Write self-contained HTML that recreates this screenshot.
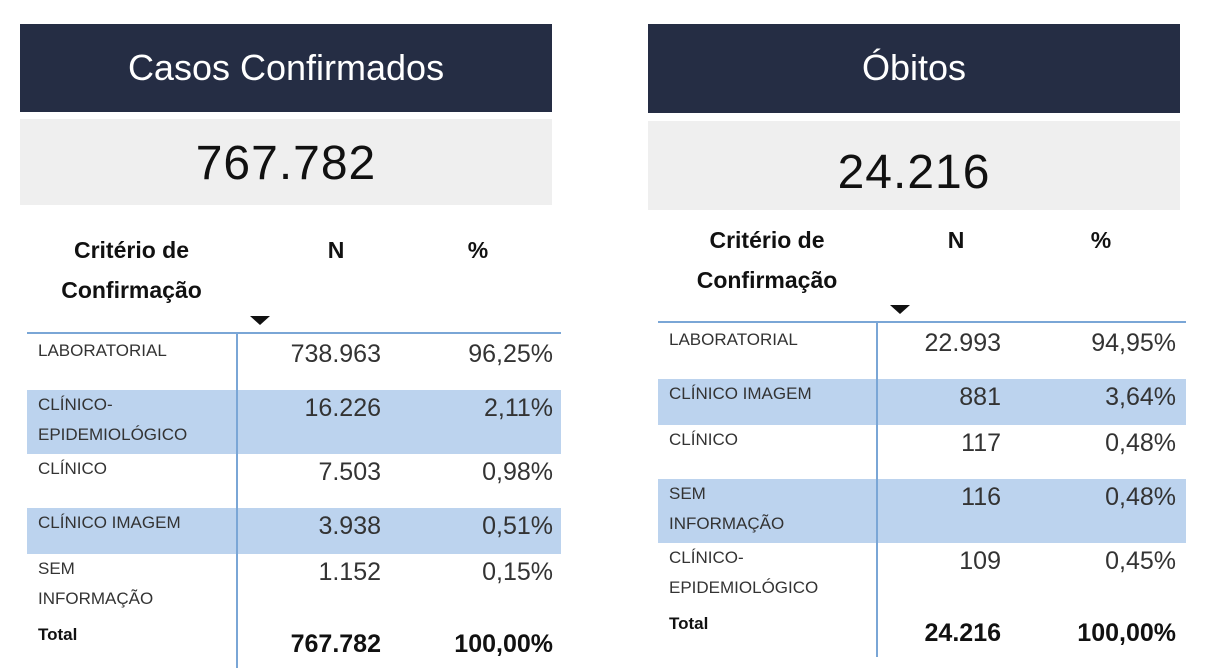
<!DOCTYPE html>
<html><head><meta charset="utf-8">
<style>
body{margin:0;width:1209px;height:663px;background:#fff;position:relative;overflow:hidden;font-family:"Liberation Sans","DejaVu Sans",sans-serif;color:#252525}
.abs{position:absolute}
.title{background:#252d44;color:#fff;font-size:36px;text-align:center;line-height:88px}
.kpi{background:#efefef;color:#111;font-size:48px;text-align:center;letter-spacing:1px}
.hd{font-weight:bold;font-size:23px;color:#111}
.lbl{font-size:17px;color:#333;line-height:30px}
.val{font-size:25px;color:#333;text-align:right}
.tot{font-weight:bold;color:#111}
.band{background:#bcd3ee}
</style></head><body>
<div class="abs title" style="left:20px;top:24px;width:532px;height:88px">Casos Confirmados</div>
<div class="abs kpi" style="left:20px;top:119px;width:532px;height:86px;line-height:90px">767.782</div>
<div class="abs title" style="left:648px;top:24px;width:532px;height:89px">Óbitos</div>
<div class="abs kpi" style="left:648px;top:121px;width:532px;height:89px;line-height:104px">24.216</div>
<div id="t1"></div>
<div id="t2"></div>
<script>
const casosLabels=[["LABORATORIAL"],["CLÍNICO-","EPIDEMIOLÓGICO"],["CLÍNICO"],["CLÍNICO IMAGEM"],["SEM","INFORMAÇÃO"]];
const casosN=["738.963","16.226","7.503","3.938","1.152"];
const casosPct=["96,25%","2,11%","0,98%","0,51%","0,15%"];
const casosTotal=["767.782","100,00%"];
const obitosLabels=[["LABORATORIAL"],["CLÍNICO IMAGEM"],["CLÍNICO"],["SEM","INFORMAÇÃO"],["CLÍNICO-","EPIDEMIOLÓGICO"]];
const obitosN=["22.993","881","117","116","109"];
const obitosPct=["94,95%","3,64%","0,48%","0,48%","0,45%"];
const obitosTotal=["24.216","100,00%"];
function mk(parent,cls,name,style,text){
  const e=document.createElement('div');
  e.className='abs '+cls;
  
  
  e.style.cssText=style;
  if(text!==undefined)e.innerHTML=text;
  parent.appendChild(e);return e;
}
function build(id,g,labels,ns,pcts,total){
  const p=document.getElementById(id);
  mk(p,'hd','header-criterio',`left:${g.x0}px;top:${g.hy}px;width:${g.divX-g.x0}px;text-align:center;line-height:40px`,'Critério de<br>Confirmação');
  mk(p,'hd','header-n',`left:${g.nR-80}px;top:${g.hy}px;width:70px;text-align:center;line-height:40px`,'N');
  mk(p,'hd','header-pct',`left:${g.pR-120}px;top:${g.hy}px;width:90px;text-align:center;line-height:40px`,'%');
  const tri=mk(p,'','sort-indicator',`left:${g.divX+14}px;top:${g.lineY-16}px;width:0;height:0;border-left:10px solid transparent;border-right:10px solid transparent;border-top:9px solid #111`);
  
  mk(p,'','header-line',`left:${g.x0}px;top:${g.lineY}px;width:${g.x1-g.x0}px;height:2px;background:#7aa6d6`);
  let y=g.lineY+4;
  labels.forEach((l,i)=>{
    const h=l.length>1?64:(i%2?46:54);
    if(i%2===1)mk(p,'band','row-band',`left:${g.x0}px;top:${y}px;width:${g.x1-g.x0}px;height:${h}px`);
    mk(p,'lbl','row-label',`left:${g.x0+11}px;top:${y}px;width:${g.divX-g.x0-10}px`,l.join('<br>'));
    mk(p,'val','row-n',`left:${g.nR-160}px;top:${y+4}px;width:160px`,ns[i]);
    mk(p,'val','row-pct',`left:${g.pR-160}px;top:${y+4}px;width:160px`,pcts[i]);
    y+=h;
  });
  mk(p,'lbl tot','total-label',`left:${g.x0+11}px;top:${y+2}px`,'Total');
  mk(p,'val tot','total-n',`left:${g.nR-160}px;top:${y+12}px;width:160px`,total[0]);
  mk(p,'val tot','total-pct',`left:${g.pR-160}px;top:${y+12}px;width:160px`,total[1]);
  mk(p,'','column-divider',`left:${g.divX}px;top:${g.lineY}px;width:2px;height:${y+50-g.lineY}px;background:#7aa6d6`);
}
build('t1',{x0:27,x1:561,divX:236,nR:381,pR:553,hy:230,lineY:332},casosLabels,casosN,casosPct,casosTotal);
build('t2',{x0:658,x1:1186,divX:876,nR:1001,pR:1176,hy:220,lineY:321},obitosLabels,obitosN,obitosPct,obitosTotal);
</script>
</body></html>
